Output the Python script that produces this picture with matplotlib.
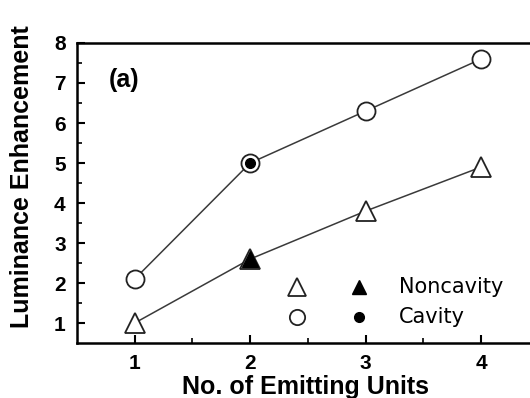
import matplotlib.pyplot as plt
import numpy as np

plt.rcParams['font.family'] = ['Liberation Sans', 'DejaVu Sans']

units = [1, 2, 3, 4]
cavity = [2.1, 5.0, 6.3, 7.6]
noncavity = [1.0, 2.6, 3.8, 4.9]

# filled markers (measured points) only at 2 units
filled_units = [2]
cavity_filled = [5.0]
noncavity_filled = [2.6]

fig = plt.figure(figsize=(5.3, 3.98), dpi=100)
ax = fig.add_axes([0.145, 0.138, 0.872, 0.754])

ax.plot(units, cavity, '-', color='#3a3a3a', lw=1.1, zorder=1)
ax.plot(units, noncavity, '-', color='#3a3a3a', lw=1.1, zorder=1)
ax.plot(units, cavity, 'o', ms=13, mfc='white', mec='#222222', mew=1.3, zorder=2)
ax.plot(units, noncavity, '^', ms=15, mfc='white', mec='#222222', mew=1.3, zorder=2)
ax.plot(filled_units, cavity_filled, 'o', ms=7, color='black', zorder=3)
ax.plot(filled_units, noncavity_filled, '^', ms=11, color='black', zorder=3)

ax.set_xlim(0.5, 4.5)
ax.set_ylim(0.5, 8)
ax.set_xticks([1, 2, 3, 4])
ax.set_yticks(range(1, 9))
ax.set_xticks(np.arange(1.5, 4.5, 1), minor=True)
ax.set_yticks(np.arange(1.5, 8, 1), minor=True)
ax.tick_params(direction='in', which='major', length=6, width=1.5, labelsize=15, pad=8)
ax.tick_params(direction='in', which='minor', length=3.5, width=1.2)
for lab in ax.get_xticklabels() + ax.get_yticklabels():
    lab.set_fontweight('bold')
for s in ax.spines.values():
    s.set_linewidth(1.8)

ax.set_xlabel('No. of Emitting Units', fontsize=18, fontweight='bold')
ax.set_ylabel('Luminance Enhancement', fontsize=18, fontweight='bold')
ax.xaxis.set_label_coords(0.494, -0.105)
ax.yaxis.set_label_coords(-0.092, 0.555)
ax.text(0.78, 7.07, '(a)', fontsize=18, fontweight='bold', ha='left', va='center')

# legend: open and filled marker columns plus labels
rows = [('^', 13, 10, 'Noncavity', 0.187), ('o', 11, 7, 'Cavity', 0.087)]
for mk, ms_open, ms_fill, label, yy in rows:
    ax.plot(0.476, yy, mk, ms=ms_open, mfc='white', mec='#222222', mew=1.3,
            transform=ax.transAxes, clip_on=False)
    ax.plot(0.61, yy, mk, ms=ms_fill, color='black',
            transform=ax.transAxes, clip_on=False)
    ax.text(0.697, yy, label, fontsize=15, transform=ax.transAxes, va='center', ha='left',
            family=['DejaVu Sans'])

fig.savefig('out.png', dpi=100)
